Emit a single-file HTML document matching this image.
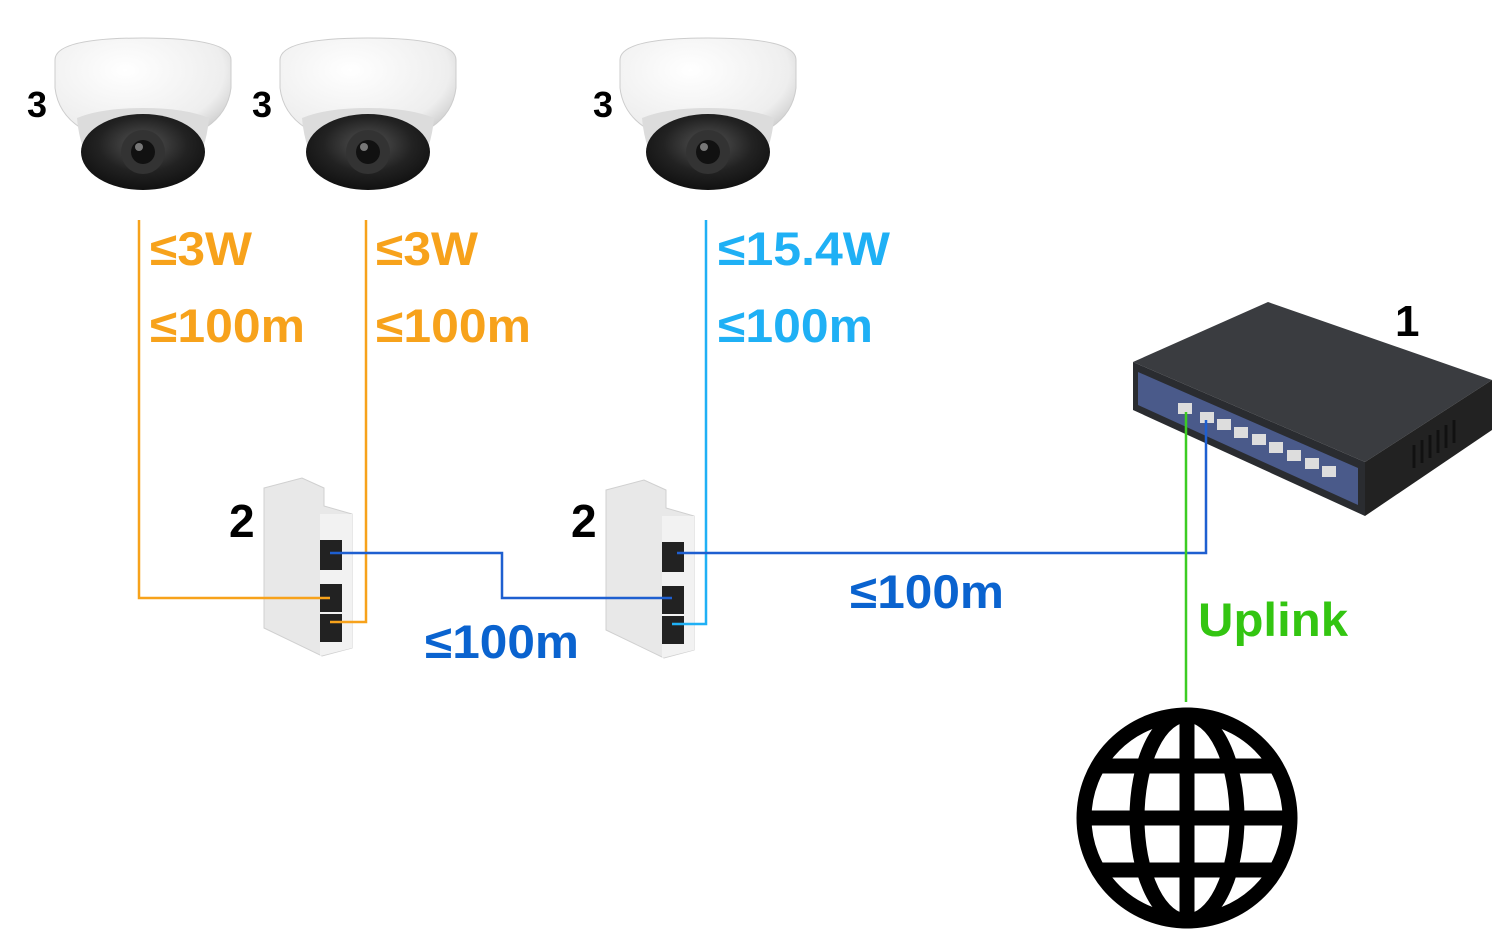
<!DOCTYPE html>
<html><head><style>
html,body{margin:0;padding:0;background:#fff;}
svg{display:block;}
text{font-family:"Liberation Sans",sans-serif;font-weight:bold;}
</style></head><body>
<svg width="1500" height="939" viewBox="0 0 1500 939">
<defs>
<radialGradient id="dome" cx="0.4" cy="0.3" r="0.8">
<stop offset="0" stop-color="#ffffff"/><stop offset="0.7" stop-color="#eeeeee"/><stop offset="1" stop-color="#bbbbbb"/>
</radialGradient>
<radialGradient id="lens" cx="0.5" cy="0.4" r="0.6">
<stop offset="0" stop-color="#555"/><stop offset="0.6" stop-color="#222"/><stop offset="1" stop-color="#111"/>
</radialGradient>
<g id="cam">
<path d="M0,22 Q0,0 88,0 Q176,0 176,22 L176,50 Q170,100 88,108 Q6,100 0,50 Z" fill="url(#dome)" stroke="#ccc"/>
<path d="M22,80 Q28,150 88,152 Q148,150 154,80 Q130,70 88,70 Q46,70 22,80Z" fill="#dcdcdc"/>
<ellipse cx="88" cy="114" rx="62" ry="38" fill="url(#lens)"/>
<circle cx="88" cy="114" r="22" fill="#333"/>
<circle cx="88" cy="114" r="12" fill="#111"/>
<circle cx="84" cy="109" r="4" fill="#777"/>
</g>
<g id="split">
<path d="M2,10 L40,0 L62,10 L62,28 L90,36 L90,170 L60,178 L2,150 Z" fill="#e8e8e8" stroke="#d0d0d0"/>
<path d="M58,36 L90,36 L90,170 L58,178 Z" fill="#f2f2f2"/>
<rect x="58" y="62" width="22" height="30" fill="#222"/>
<rect x="58" y="106" width="22" height="28" fill="#222"/>
<rect x="58" y="136" width="22" height="28" fill="#222"/>
</g>
</defs>

<use href="#cam" x="55" y="38"/>
<use href="#cam" x="280" y="38"/>
<use href="#cam" x="620" y="38"/>
<text x="27" y="117" font-size="36">3</text>
<text x="252" y="117" font-size="36">3</text>
<text x="593" y="117" font-size="36">3</text>

<use href="#split" x="262" y="478"/>
<use href="#split" x="604" y="480"/>
<text x="229" y="537" font-size="46">2</text>
<text x="571" y="537" font-size="46">2</text>

<!-- switch -->
<polygon points="1133,362 1268,302 1492,380 1365,462" fill="#3a3c40"/>
<polygon points="1133,362 1365,462 1365,516 1133,410" fill="#2a2c30"/>
<polygon points="1138,372 1358,468 1358,505 1138,405" fill="#4a5a8a"/>
<polygon points="1365,462 1492,380 1492,430 1365,516" fill="#222"/>
<g fill="#ddd">
<rect x="1178" y="403" width="14" height="11"/>
<rect x="1200" y="412" width="14" height="11"/><rect x="1217" y="419" width="14" height="11"/>
<rect x="1234" y="427" width="14" height="11"/><rect x="1252" y="434" width="14" height="11"/>
<rect x="1269" y="442" width="14" height="11"/><rect x="1287" y="450" width="14" height="11"/>
<rect x="1305" y="458" width="14" height="11"/><rect x="1322" y="466" width="14" height="11"/>
</g>
<g stroke="#111" stroke-width="3">
<line x1="1414" y1="445" x2="1414" y2="468"/><line x1="1422" y1="440" x2="1422" y2="463"/>
<line x1="1430" y1="435" x2="1430" y2="458"/><line x1="1438" y1="430" x2="1438" y2="453"/>
<line x1="1446" y1="425" x2="1446" y2="448"/><line x1="1454" y1="420" x2="1454" y2="443"/>
</g>
<text x="1395" y="336" font-size="44">1</text>

<!-- lines -->
<g fill="none" stroke-width="2.5">
<polyline points="139,220 139,598 330,598" stroke="#f7a21b"/>
<polyline points="366,220 366,622 330,622" stroke="#f7a21b"/>
<polyline points="330,553 502,553 502,598 672,598" stroke="#1e5fd0"/>
<polyline points="706,220 706,624 672,624" stroke="#1fb0f5"/>
<polyline points="677,553 1206,553 1206,420" stroke="#1e5fd0"/>
<polyline points="1186,702 1186,412" stroke="#3ccc22"/>
</g>

<g font-size="47">
<text x="150" y="265" fill="#f7a21b" textLength="102" lengthAdjust="spacingAndGlyphs">≤3W</text>
<text x="150" y="342" fill="#f7a21b" textLength="155" lengthAdjust="spacingAndGlyphs">≤100m</text>
<text x="376" y="265" fill="#f7a21b" textLength="102" lengthAdjust="spacingAndGlyphs">≤3W</text>
<text x="376" y="342" fill="#f7a21b" textLength="155" lengthAdjust="spacingAndGlyphs">≤100m</text>
<text x="718" y="265" fill="#1fb0f5" textLength="172" lengthAdjust="spacingAndGlyphs">≤15.4W</text>
<text x="718" y="342" fill="#1fb0f5" textLength="155" lengthAdjust="spacingAndGlyphs">≤100m</text>
<text x="425" y="658" fill="#0a63cf" textLength="154" lengthAdjust="spacingAndGlyphs">≤100m</text>
<text x="850" y="608" fill="#0a63cf" textLength="154" lengthAdjust="spacingAndGlyphs">≤100m</text>
<text x="1198" y="636" fill="#33c511" textLength="150" lengthAdjust="spacingAndGlyphs">Uplink</text>
</g>

<!-- globe -->
<g fill="none" stroke="#000" stroke-width="15">
<circle cx="1187" cy="818" r="103"/>
<ellipse cx="1187" cy="818" rx="50" ry="103"/>
<line x1="1187" y1="715" x2="1187" y2="921"/>
<line x1="1084" y1="818" x2="1290" y2="818"/>
<line x1="1098" y1="766" x2="1276" y2="766"/>
<line x1="1098" y1="870" x2="1276" y2="870"/>
</g>
</svg>
</body></html>
